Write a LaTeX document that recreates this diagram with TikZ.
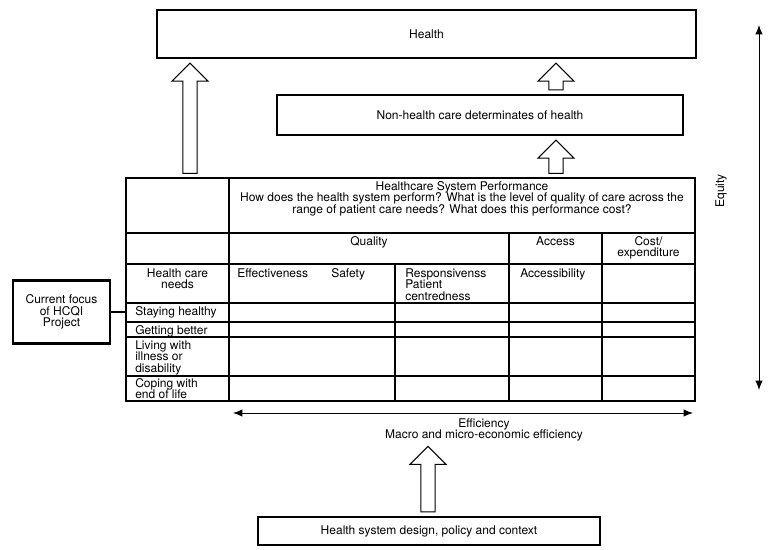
\documentclass[tikz,border=0pt]{standalone}
\usepackage{fontspec}
\setmainfont{TeX Gyre Heros}
\usetikzlibrary{arrows.meta,calc,positioning}

\tikzset{
  box/.style={draw,line width=0.8pt,inner sep=0pt,font=\fontsize{9}{8.7}\selectfont},
  focusbox/.style={box,line width=1.6pt,align=center},
  txt/.style={inner sep=0pt,font=\fontsize{9}{8.7}\selectfont},
  grid/.style={line width=0.8pt},
  focusline/.style={line width=1.6pt},
  blockarr/.style={draw,line width=0.8pt,fill=white,line join=miter},
  dblarrow/.style={line width=0.7pt,{Latex[length=7pt,width=5.5pt]}-{Latex[length=7pt,width=5.5pt]}}
}

\newcommand{\blockarrow}[3]{%
  \draw[blockarr] let \p1=(#2), \p2=(#3), \p3=(#1,0) in
    (\x3-5.4pt,\y1+3.5pt) -- (\x3-5.4pt,\y2-17pt) -- (\x3-13.5pt,\y2-17pt)
    -- (\x3,\y2-3.5pt) -- (\x3+13.5pt,\y2-17pt) -- (\x3+5.4pt,\y2-17pt)
    -- (\x3+5.4pt,\y1+3.5pt) -- cycle;}

\begin{document}
\begin{tikzpicture}[x=0.75pt,y=-0.75pt]
  \useasboundingbox (0,0) rectangle (773,549);

  \node[box,minimum width=539*0.75pt,minimum height=48*0.75pt] (health) at (426.5,34) {Health};
  \node[box,minimum width=406*0.75pt,minimum height=40*0.75pt] (nonhealth) at (480,115) {Non-health care determinates of health};
  \node[box,minimum width=342*0.75pt,minimum height=28*0.75pt] (design) at (429,531) {Health system design, policy and context};
  \node[focusbox,minimum width=97*0.75pt,minimum height=63*0.75pt] (focus) at (61.5,312) {Current focus\\of HCQI\\Project};

  % table
  \coordinate (tabletop) at (462,178);
  \coordinate (tableleft) at (126,312);
  \draw[line width=1pt] (126,178) rectangle (695,401);
  \foreach \y in {233,264,303,322,337,376}
    \draw[grid] (126,\y) -- (695,\y);
  \draw[grid] (229,178) -- (229,401);
  \draw[grid] (395,264) -- (395,401);
  \foreach \x in {509,602}
    \draw[grid] (\x,233) -- (\x,401);
  \draw[focusline] (126,233) rectangle (509,401);
  \draw[focusline] (focus.east) -- (focus.east -| tableleft);

  \node[txt,anchor=north,align=center] (perf) at (462,181) {Healthcare System Performance\\How does the health system perform? What is the level of quality of care across the\\range of patient care needs? What does this performance cost?};
  \node[txt,anchor=north] (quality) at (369,236) {Quality};
  \node[txt,anchor=north] (access) at (555.5,236) {Access};
  \node[txt,anchor=north,align=center] (cost) at (648.5,236) {Cost/\\expenditure};
  \node[txt,anchor=north,align=center] (needs) at (177.5,268) {Health care\\needs};
  \node[txt,anchor=north west] (effect) at (237,268) {Effectiveness};
  \node[txt,anchor=north west] (safety) at (331,268) {Safety};
  \node[txt,anchor=north west,align=left] (respons) at (405,268) {Responsivenss\\Patient\\centredness};
  \node[txt,anchor=north west] (accessib) at (520,268) {Accessibility};
  \node[txt,anchor=north west] (healthy) at (135,306) {Staying healthy};
  \node[txt,anchor=north west] (better) at (135,325) {Getting better};
  \node[txt,anchor=north west,align=left] (living) at (135,340) {Living with\\illness or\\disability};
  \node[txt,anchor=north west,align=left] (coping) at (135,378) {Coping with\\end of life};

  \coordinate (eqtop) at (759,25);
  \coordinate (eqbot) at (759,390);
  \draw[dblarrow] (eqbot) -- (eqtop);
  \node[txt,rotate=90] (equity) at (721,191) {Equity};

  \coordinate (effl) at (233,413);
  \coordinate (effr) at (693,413);
  \draw[dblarrow] (effl) -- (effr);
  \node[txt,align=center] (eff) at (484,430) {Efficiency\\Macro and micro-economic efficiency};

  \blockarrow{190}{tabletop}{health.south}
  \blockarrow{556}{nonhealth.north}{health.south}
  \blockarrow{556}{tabletop}{nonhealth.south}
  \blockarrow{428}{design.north}{eff.south}
\end{tikzpicture}
\end{document}
